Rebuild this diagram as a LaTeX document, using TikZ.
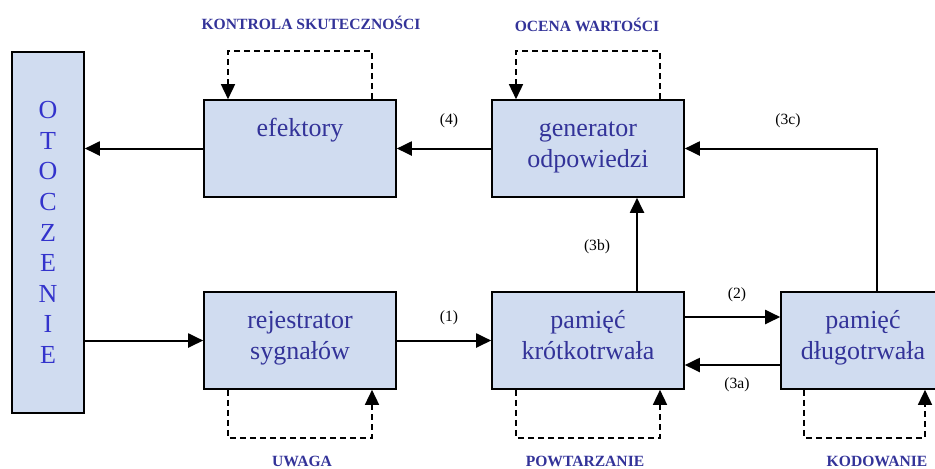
\documentclass[tikz,border=0pt]{standalone}
\usepackage{fontspec}
\setmainfont{Liberation Serif}
\newfontfamily\timesfont{Liberation Serif}
\usetikzlibrary{arrows.meta,calc,positioning}
\definecolor{boxfill}{HTML}{D0DCF0}
\definecolor{boxtext}{HTML}{333399}
\definecolor{envtext}{HTML}{3333CC}
\tikzset{
    memory diagram/.style = {x=0.5pt, y=-0.5pt,
                             >={Triangle[length=7.5pt,width=7pt]}},
    flow/.style           = {line width=1pt, ->},
    feedback/.style       = {line width=0.75pt, dash pattern=on 3pt off 2pt, ->},
    block/.style          = {draw, line width=0.8pt, fill=boxfill,
                             minimum width=96pt, minimum height=48.5pt},
    blocktext/.style      = {text=boxtext, anchor=north, inner sep=0pt,
                             align=center,
                             font=\timesfont\fontsize{13}{15.5}\selectfont},
    env/.style            = {draw, line width=0.8pt, fill=boxfill,
                             minimum width=36pt, minimum height=180.5pt,
                             text=envtext, align=center,
                             font=\timesfont\fontsize{13}{15.3}\selectfont},
    num/.style            = {font=\timesfont\fontsize{7.8}{9}\selectfont},
    caption/.style        = {text=boxtext,
                             font=\timesfont\fontsize{7.8}{9}\selectfont\bfseries}
}
\def\toprow{148.5}
\def\botrow{340.5}

\begin{document}
\begin{tikzpicture}[memory diagram]
\clip (0,0) rectangle (935,468);

% ================= Environment =================
\node[env] (otoczenie) at (48,232.5) {O\\T\\O\\C\\Z\\E\\N\\I\\E};

% ================= Blocks =================
\node[block] (efektory) at (300,\toprow) {};
\node[block] (generator) at (588,\toprow) {};
\node[block] (rejestrator) at (300,\botrow) {};
\node[block] (krotka) at (588,\botrow) {};
\node[block] (dluga) at (877,\botrow) {};

\node[blocktext] (efektory-t) at ($(efektory.north)+(0,15)$) {\strut efektory};
\node[blocktext] (generator-t) at ($(generator.north)+(0,15)$) {\strut generator\\odpowiedzi};
\node[blocktext] (rejestrator-t) at ($(rejestrator.north)+(0,15)$) {\strut rejestrator\\sygnałów};
\node[blocktext] (krotka-t) at ($(krotka.north)+(0,15)$) {\strut pamięć\\krótkotrwała};
\node[blocktext] (dluga-t) at ($(dluga.north)+(-14,15)$) {\strut pamięć\\długotrwała};

% ================= Main flow =================
\draw[flow] (efektory.west) -- (efektory.west -| otoczenie.east);
\draw[flow] (generator.west) -- (efektory.east);
\draw[flow] (dluga.north) |- (generator.east);
\draw[flow] ($(krotka.north)+(49,0)$) -- ($(generator.south)+(49,0)$);
\draw[flow] (otoczenie.east |- rejestrator.west) -- (rejestrator.west);
\draw[flow] (rejestrator.east) -- (krotka.west);
\draw[flow] ($(krotka.east)+(0,-23.5)$) -- ($(dluga.west)+(0,-23.5)$);
\draw[flow] ($(dluga.west)+(0,24.5)$) -- ($(krotka.east)+(0,24.5)$);

\node[num] (n4) at (449,121) {(4)};
\node[num] (n3c) at (788,121) {(3c)};
\node[num] (n3b) at (597,247) {(3b)};
\node[num] (n1) at (449,318) {(1)};
\node[num] (n2) at (737,295) {(2)};
\node[num] (n3a) at (737,385) {(3a)};

% ================= Feedback loops =================
\draw[feedback] ($(efektory.north)+(72,0)$) -- ++(0,-48) -| ($(efektory.north)+(-72,0)$);
\draw[feedback] ($(generator.north)+(72,0)$) -- ++(0,-48) -| ($(generator.north)+(-72,0)$);
\draw[feedback] ($(rejestrator.south)+(-72,0)$) -- ++(0,48) -| ($(rejestrator.south)+(72,0)$);
\draw[feedback] ($(krotka.south)+(-72,0)$) -- ++(0,48) -| ($(krotka.south)+(72,0)$);
\draw[feedback] ($(dluga.south)+(-73,0)$) -- ++(0,48) -| ($(dluga.south)+(48,0)$);

\node[caption] (kontrola) at (311,23) {KONTROLA SKUTECZNOŚCI};
\node[caption] (ocena) at (587,25) {OCENA WARTOŚCI};
\node[caption] (uwaga) at (302,461) {UWAGA};
\node[caption] (powtarzanie) at (585,461) {POWTARZANIE};
\node[caption] (kodowanie) at (877,461) {KODOWANIE};

\end{tikzpicture}
\end{document}
